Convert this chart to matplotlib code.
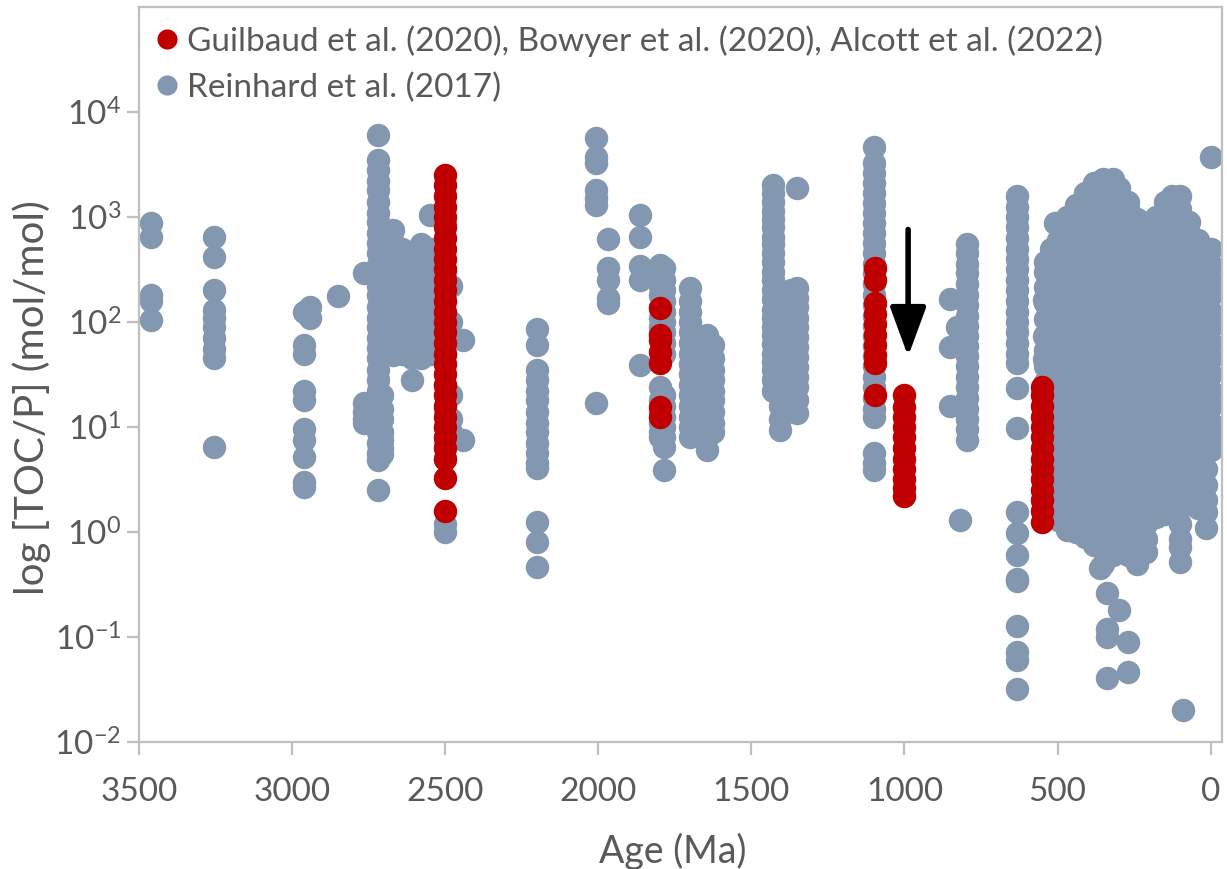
import matplotlib
matplotlib.use("Agg")
import matplotlib.pyplot as plt
from matplotlib.ticker import NullLocator, FixedLocator
from matplotlib.lines import Line2D

plt.rcParams['font.family'] = ['Lato', 'DejaVu Sans']
plt.rcParams['mathtext.fontset'] = 'custom'
plt.rcParams['mathtext.rm'] = 'Lato'
plt.rcParams['mathtext.it'] = 'Lato:italic'
plt.rcParams['mathtext.bf'] = 'Lato:bold'

# ---------------- data ----------------
# Reinhard et al. (2017): ages (Ma) and TOC/P values (mol/mol) per age column
reinhard_ages = [
    3460, 3255, 2960, 2940, 2850, 2765, 2720, 2705, 2670, 2640, 2610, 2580, 2550,
    2500, 2480, 2443, 2200,
    2006, 1967, 1863, 1800, 1785, 1700, 1644, 1625,
    1430, 1405, 1370, 1350, 1100,
    850, 830, 818, 796, 632, 545, 508,
    540, 520, 500, 470, 440, 410, 380, 360, 350, 338, 320, 300, 270, 240, 210,
    180, 150, 125, 100, 90, 70, 40, 15, 0,
]
reinhard_toc = [
    [880, 640, 180, 160, 105],
    [640, 420, 200, 130, 110, 90, 70, 55, 45, 6.5],
    [125, 60, 50, 22, 18, 9.5, 7.5, 5.2, 3.0, 2.7],
    [140, 110],
    [175],
    [290, 17, 14, 12, 11],
    [6000, 3500, 2800, 2200, 1800, 1400, 1100, 900, 700, 560, 450, 350, 280, 220,
     180, 140, 110, 90, 70, 56, 45, 35, 28, 22, 18, 14, 11, 9, 7, 5.6, 4.9, 2.5],
    [20, 15, 12, 9, 7.5, 6.3, 5.5],
    [750, 560, 450, 350, 280, 220, 180, 140, 110, 90, 70, 56, 48],
    [500, 400, 320, 250, 200, 160, 100, 80, 63, 50],
    [450, 350, 280, 220, 180, 140, 110, 90, 70, 56, 45, 28],
    [550, 450, 350, 280, 220, 180, 140, 110, 90, 70, 56, 45],
    [1050, 500, 400, 320, 250, 200, 160, 125, 100, 80, 63, 50],
    [850, 300, 190, 100, 50, 25, 15, 10, 7, 5, 1.2, 1.0],
    [220, 100, 70, 20, 12, 9],
    [68, 7.5],
    [85, 61, 35, 28, 22, 18, 14, 11, 9, 7, 5.6, 4.5, 4.1, 1.25, 0.8, 0.46],
    [5700, 3700, 3300, 1800, 1500, 1300, 17],
    [620, 330, 250, 170, 150],
    [1050, 640, 340, 250, 39],
    [350, 280, 220, 180, 140, 110, 90, 80, 24, 18, 14, 11, 9, 8],
    [330, 250, 200, 160, 125, 100, 80, 63, 50, 20, 16, 12.5, 10, 8, 6.5, 3.9],
    [210, 160, 125, 100, 80, 63, 50, 40, 32, 25, 20, 16, 12.5, 10, 8],
    [75, 63, 50, 40, 32, 25, 20, 16, 12.5, 10, 8, 6],
    [60, 45, 35, 28, 22, 18, 14, 11, 9],
    [2000, 1700, 1400, 1150, 950, 800, 650, 550, 450, 370, 300, 250, 200, 165,
     130, 110, 90, 75, 62, 50, 42, 35, 28, 22],
    [16, 12, 9.4],
    [200, 160, 130, 100, 80, 65, 52, 42, 34, 28, 22],
    [1900, 210, 170, 140, 110, 90, 72, 58, 46, 37, 30, 24, 18, 13.6],
    [4600, 3300, 2600, 2100, 1700, 1350, 1100, 870, 700, 560, 450, 360, 290, 230,
     180, 145, 115, 92, 74, 59, 47, 38, 30, 24, 19, 15, 12.5, 5.6, 4.5, 3.9],
    [165, 58, 16],
    [90],
    [1.3],
    [550, 450, 360, 290, 230, 180, 145, 115, 92, 74, 59, 47, 38, 30, 24, 19, 15,
     12, 9.5, 7.6],
    [1570, 1250, 1000, 800, 630, 500, 400, 320, 250, 200, 160, 125, 100, 80, 63,
     50, 41, 23.6, 9.8, 1.55, 0.97, 0.6, 0.36, 0.34, 0.127, 0.072, 0.06, 0.032],
    [163, 73, 44],
    [880],
    [370, 300, 215, 150, 107, 76, 54, 38, 27, 19, 13.5, 9.5, 6.8, 4.8, 3.4, 2.4, 1.7, 1.5],
    [500, 350, 250, 180, 125, 90, 63, 45, 32, 22, 16, 11, 8, 5.6, 4.0, 2.8, 2.0, 1.4],
    [600, 425, 300, 215, 150, 107, 76, 54, 38, 27, 19, 13.5, 9.5, 6.8, 4.8, 3.4, 2.4, 1.7, 1.3],
    [1000, 700, 500, 350, 250, 180, 125, 90, 63, 45, 32, 22, 16, 11, 8, 5.6, 4.0,
     2.8, 2.0, 1.4, 1.05],
    [1300, 850, 600, 425, 300, 215, 150, 107, 76, 54, 38, 27, 19, 13.5, 9.5, 6.8,
     4.8, 3.4, 2.4, 1.7, 1.2, 1.0],
    [1700, 1400, 1000, 700, 500, 350, 250, 180, 125, 90, 63, 45, 32, 22, 16, 11, 8,
     5.6, 4.0, 2.8, 2.0, 1.4, 1.0, 0.9],
    [2100, 1700, 1200, 850, 600, 425, 300, 215, 150, 107, 76, 54, 38, 27, 19, 13.5,
     9.5, 6.8, 4.8, 3.4, 2.4, 1.7, 1.2, 0.85, 0.75],
    [0.45],
    [2300, 2000, 1400, 1000, 700, 500, 350, 250, 180, 125, 90, 63, 45, 32, 22, 16,
     11, 8, 5.6, 4.0, 2.8, 2.0, 1.4, 1.0, 0.7, 0.5],
    [0.26, 0.12, 0.1, 0.041],
    [2300, 1700, 1200, 850, 600, 425, 300, 215, 150, 107, 76, 54, 38, 27, 19, 13.5,
     9.5, 6.8, 4.8, 3.4, 2.4, 1.7, 1.2, 0.85, 0.6],
    [1900, 1400, 1000, 700, 500, 350, 250, 180, 125, 90, 63, 45, 32, 22, 16, 11, 8,
     5.6, 4.0, 2.8, 2.0, 1.4, 1.0, 0.7, 0.18],
    [1400, 1200, 850, 600, 425, 300, 215, 150, 107, 76, 54, 38, 27, 19, 13.5, 9.5,
     6.8, 4.8, 3.4, 2.4, 1.7, 1.2, 0.85, 0.6, 0.09, 0.046],
    [950, 700, 500, 350, 250, 180, 125, 90, 63, 45, 32, 22, 16, 11, 8, 5.6, 4.0,
     2.8, 2.0, 1.4, 1.0, 0.7, 0.5],
    [800, 600, 425, 300, 215, 150, 107, 76, 54, 38, 27, 19, 13.5, 9.5, 6.8, 4.8,
     3.4, 2.4, 1.7, 1.2, 0.85, 0.64],
    [1000, 700, 500, 350, 250, 180, 125, 90, 63, 45, 32, 22, 16, 11, 8, 5.6, 4.0,
     2.8, 2.0, 1.4],
    [1400, 1200, 850, 600, 425, 300, 215, 150, 107, 76, 54, 38, 27, 19, 13.5, 9.5,
     6.8, 4.8, 3.4, 2.4, 1.7, 1.5],
    [1600, 1400, 1000, 700, 500, 350, 250, 180, 125, 90, 63, 45, 32, 22, 16, 11, 8,
     5.6, 4.0, 2.8, 2.0, 1.6],
    [1600, 1200, 850, 600, 425, 300, 215, 150, 107, 76, 54, 38, 27, 19, 13.5, 9.5,
     6.8, 4.8, 3.4, 2.4, 1.7, 1.2, 0.85, 0.72, 0.52],
    [0.02],
    [900, 700, 500, 350, 250, 180, 125, 90, 63, 45, 32, 22, 16, 11, 8, 5.6, 4.0, 2.8, 2.0],
    [600, 425, 300, 215, 150, 107, 76, 54, 38, 27, 19, 13.5, 9.5, 6.8, 4.8, 3.4, 2.4, 1.7],
    [450, 350, 250, 180, 125, 90, 63, 45, 32, 22, 16, 11, 8, 5.6, 4.0, 2.8, 2.0, 1.55, 1.1],
    [3700, 500, 350, 250, 180, 125, 90, 63, 45, 32, 22, 16, 11, 8, 6],
]

# Guilbaud et al. (2020), Bowyer et al. (2020), Alcott et al. (2022)
new_ages = [2500, 1800, 1095, 1000, 550]
new_toc = [
    [2500, 2000, 1600, 1250, 1000, 800, 630, 500, 400, 320, 250, 200, 160, 125, 100,
     80, 63, 50, 40, 32, 25, 20, 16, 12.5, 10, 8, 6.3, 5.0, 3.3, 1.6],
    [135, 75, 68, 52, 41, 15.5, 12.5],
    [330, 250, 150, 120, 95, 75, 60, 48, 41, 20],
    [20, 15.5, 12.5, 10, 8, 6.3, 5, 4, 3.2, 2.6, 2.2],
    [24, 20, 16, 12.5, 10, 8, 6.3, 5, 4, 3.2, 2.5, 2.0, 1.6, 1.25],
]

x_ticks = [3500, 3000, 2500, 2000, 1500, 1000, 500, 0]
y_ticks = [1e-2, 1e-1, 1e0, 1e1, 1e2, 1e3, 1e4]
label_new = "Guilbaud et al. (2020), Bowyer et al. (2020), Alcott et al. (2022)"
label_old = "Reinhard et al. (2017)"

GREY = "#8497B0"
RED = "#C00000"
TXT = "#595959"
AX = "#BFBFBF"

# flatten columns
gx, gy = [], []
for a, vals in zip(reinhard_ages, reinhard_toc):
    gx += [a] * len(vals)
    gy += vals
rx, ry = [], []
for a, vals in zip(new_ages, new_toc):
    rx += [a] * len(vals)
    ry += vals

fig = plt.figure(figsize=(12.27, 8.69), dpi=100)
ax = fig.add_axes([0.1133, 0.1461, 0.9959 - 0.1133, 0.992 - 0.1461])

ms = 285
ax.scatter(gx, gy, s=ms, color=GREY, linewidths=0, zorder=2)
ax.scatter(rx, ry, s=ms, color=RED, linewidths=0, zorder=3)

ax.set_yscale('log')
ax.set_xlim(3500, -37)
ax.set_ylim(1e-2, 1e5)
ax.xaxis.set_major_locator(FixedLocator(x_ticks))
ax.yaxis.set_major_locator(FixedLocator(y_ticks))
ax.yaxis.set_minor_locator(NullLocator())
ax.xaxis.set_minor_locator(NullLocator())

for sp in ax.spines.values():
    sp.set_color(AX)
    sp.set_linewidth(1.6)
ax.tick_params(axis='both', direction='out', length=9, width=1.6, color=AX,
               labelcolor=TXT, labelsize=24)
ax.tick_params(axis='x', pad=16)
ax.tick_params(axis='y', pad=4)

ax.set_xlabel("Age (Ma)", fontsize=27, color=TXT)
ax.xaxis.set_label_coords(0.493, -0.124)
ax.set_ylabel("log [TOC/P] (mol/mol)", fontsize=29, color=TXT, va='center')
ax.yaxis.set_label_coords(-0.0988, 0.468)

# arrow
ax.annotate('', xy=(988, 47), xytext=(988, 760),
            arrowprops=dict(arrowstyle='-|>,head_width=0.55,head_length=1.5',
                            lw=4, color='black', mutation_scale=20,
                            shrinkA=0, shrinkB=0), zorder=4)

handles = [
    Line2D([], [], marker='o', ls='', color=RED, markersize=14.5, markeredgewidth=0),
    Line2D([], [], marker='o', ls='', color=GREY, markersize=14.5, markeredgewidth=0),
]
leg = ax.legend(handles, [label_new, label_old], loc='upper left',
                bbox_to_anchor=(0.0074, 0.975), frameon=False, fontsize=24,
                handletextpad=0.0, labelspacing=0.47, handlelength=1.2,
                borderaxespad=0.0, borderpad=0.0)
for t in leg.get_texts():
    t.set_color(TXT)

fig.savefig("out.png", dpi=100)
